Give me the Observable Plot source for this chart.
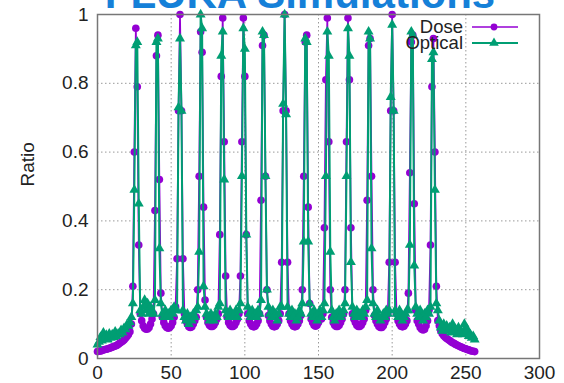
<!DOCTYPE html>
<html>
<head>
<meta charset="utf-8">
<script src="https://cdn.jsdelivr.net/npm/d3@7"></script>
<script src="https://cdn.jsdelivr.net/npm/@observablehq/plot@0.6"></script>
<style>
  body { margin: 0; background: #fff; }
  #wrap { position: relative; width: 564px; height: 383px; overflow: hidden; font-family: "Liberation Sans", Arial, sans-serif; }
  #title { position: absolute; left: 0; width: 600px; top: -27.5px; text-align: center; font-size: 42px; line-height: 42px; font-weight: bold; color: #1580d8; white-space: nowrap; }
  #legend { position: absolute; left: 0; top: 0; pointer-events: none; }
</style>
</head>
<body>
<div id="wrap"><div id="title">FLUKA Simulations</div></div>
<script>
// ---- data (sample index = x position, step 1) ----
const xStart = 0, xStep = 1;
const dose = [
  0.020,0.021,0.022,0.023,0.025,0.026,0.027,0.028,0.030,0.031,
  0.033,0.035,0.036,0.038,0.041,0.044,0.047,0.050,0.054,0.059,
  0.064,0.070,0.078,0.100,0.21,0.60,0.96,0.79,0.33,0.13,
  0.11,0.095,0.088,0.085,0.086,0.09,0.10,0.115,0.13,0.43,
  0.88,0.94,0.52,0.19,0.12,0.105,0.095,0.09,0.088,0.09,
  0.095,0.105,0.12,0.15,0.29,0.72,1.0,0.72,0.29,0.13,
  0.11,0.10,0.092,0.09,0.092,0.10,0.11,0.12,0.20,0.53,
  0.95,0.89,0.44,0.17,0.12,0.105,0.097,0.093,0.093,0.097,
  0.105,0.115,0.13,0.36,0.82,0.99,0.63,0.24,0.12,0.105,
  0.097,0.093,0.093,0.097,0.105,0.115,0.13,0.24,0.63,0.99,
  0.82,0.36,0.13,0.11,0.10,0.094,0.092,0.094,0.10,0.11,
  0.13,0.46,0.91,0.94,0.53,0.20,0.125,0.11,0.10,0.094,
  0.092,0.094,0.10,0.11,0.13,0.28,0.72,1.0,0.72,0.28,
  0.13,0.11,0.10,0.094,0.092,0.094,0.10,0.11,0.125,0.20,
  0.53,0.92,0.94,0.44,0.16,0.115,0.105,0.097,0.094,0.097,
  0.105,0.115,0.115,0.13,0.38,0.81,0.99,0.63,0.20,0.12,
  0.105,0.097,0.093,0.093,0.097,0.105,0.115,0.13,0.20,0.63,
  0.99,0.81,0.38,0.13,0.115,0.105,0.097,0.093,0.093,0.097,
  0.105,0.115,0.14,0.46,0.91,0.93,0.53,0.20,0.125,0.11,
  0.10,0.093,0.09,0.09,0.095,0.105,0.115,0.13,0.28,0.72,
  1.0,0.72,0.28,0.13,0.11,0.10,0.094,0.092,0.094,0.10,
  0.11,0.19,0.54,0.92,0.94,0.45,0.14,0.11,0.10,0.09,
  0.085,0.083,0.085,0.095,0.11,0.14,0.33,0.79,0.93,0.60,
  0.21,0.11,0.095,0.08,0.072,0.066,0.062,0.058,0.055,0.052,
  0.049,0.046,0.044,0.041,0.039,0.037,0.035,0.033,0.031,0.029,
  0.028,0.026,0.025,0.023,0.022,0.021,0.020
];
const optical = [
  0.040,0.048,0.062,0.052,0.075,0.058,0.068,0.055,0.072,0.060,
  0.070,0.062,0.078,0.065,0.072,0.070,0.082,0.075,0.088,0.085,
  0.098,0.095,0.105,0.12,0.16,0.49,0.91,0.92,0.45,0.14,
  0.13,0.15,0.17,0.14,0.16,0.13,0.15,0.14,0.13,0.17,
  0.92,0.93,0.32,0.16,0.13,0.12,0.14,0.12,0.13,0.12,
  0.14,0.13,0.15,0.14,0.14,0.73,0.93,0.72,0.14,0.12,
  0.11,0.13,0.10,0.12,0.11,0.13,0.12,0.14,0.15,0.31,
  1.0,0.96,0.21,0.15,0.13,0.12,0.11,0.13,0.12,0.11,
  0.13,0.12,0.15,0.16,0.88,0.95,0.52,0.14,0.13,0.12,
  0.14,0.13,0.12,0.13,0.14,0.12,0.14,0.16,0.53,0.96,
  0.90,0.36,0.15,0.13,0.12,0.14,0.12,0.13,0.12,0.14,
  0.13,0.17,0.95,0.94,0.53,0.20,0.15,0.13,0.12,0.14,
  0.12,0.13,0.11,0.13,0.15,0.15,0.74,1.0,0.71,0.15,
  0.13,0.12,0.14,0.12,0.13,0.11,0.12,0.14,0.13,0.16,
  0.34,0.93,0.92,0.34,0.16,0.13,0.12,0.14,0.12,0.11,
  0.13,0.14,0.12,0.14,0.16,0.53,0.95,0.88,0.31,0.14,
  0.12,0.11,0.13,0.12,0.14,0.12,0.13,0.14,0.16,0.53,
  0.96,0.88,0.28,0.15,0.13,0.12,0.14,0.12,0.13,0.12,
  0.14,0.13,0.15,0.17,0.95,0.93,0.32,0.16,0.13,0.12,
  0.14,0.12,0.11,0.12,0.13,0.12,0.14,0.13,0.14,0.76,
  0.97,0.72,0.14,0.13,0.12,0.14,0.13,0.11,0.12,0.13,
  0.14,0.14,0.33,0.95,0.94,0.27,0.15,0.13,0.12,0.14,
  0.12,0.11,0.13,0.12,0.14,0.13,0.15,0.87,0.89,0.49,
  0.16,0.14,0.11,0.09,0.08,0.10,0.085,0.095,0.08,0.09,
  0.075,0.10,0.08,0.085,0.07,0.09,0.075,0.08,0.07,0.10,
  0.075,0.085,0.065,0.07,0.06,0.065,0.055
];
const seriesNames = ["Dose", "Optical"];
const seriesColors = ["#9400d3", "#009e73"];
const xTicks = [0, 50, 100, 150, 200, 250, 300];
const yTicks = [0, 0.2, 0.4, 0.6, 0.8, 1];
const yLabel = "Ratio";

const rows = dose.map((d, i) => ({ x: xStart + i * xStep, dose: d, optical: optical[i] }))
  .filter(r => r.optical !== undefined);

const font = "Liberation Sans, Arial, sans-serif";
const chart = Plot.plot({
  width: 564, height: 383,
  marginLeft: 97, marginRight: 25, marginTop: 14, marginBottom: 25,
  style: { fontFamily: font, fontSize: "19px", color: "#222", background: "transparent", overflow: "visible" },
  x: { domain: [0, 300] },
  y: { domain: [0, 1] },
  marks: [
    Plot.gridX(xTicks, { stroke: "#999", strokeOpacity: 1, strokeDasharray: "1.5,2.5", strokeWidth: 1 }),
    Plot.gridY(yTicks, { stroke: "#999", strokeOpacity: 1, strokeDasharray: "1.5,2.5", strokeWidth: 1 }),
    Plot.axisX(xTicks, { tickSize: 0, tickPadding: 7, label: null, fontSize: 19 }),
    Plot.axisY(yTicks, { tickSize: 0, tickPadding: 9, label: null, fontSize: 19, tickFormat: d => String(d) }),
    Plot.text([yLabel], { frameAnchor: "left", dx: -70, rotate: -90, fontSize: 19, fill: "#222" }),
    Plot.line(rows, { x: "x", y: "dose", stroke: seriesColors[0], strokeWidth: 1.7 }),
    Plot.dot(rows, { x: "x", y: "dose", r: 3.8, fill: seriesColors[0], symbol: "circle" }),
    Plot.line(rows, { x: "x", y: "optical", stroke: seriesColors[1], strokeWidth: 2 }),
    Plot.dot(rows, { x: "x", y: "optical", r: 3.7, fill: seriesColors[1], symbol: "triangle" }),
    Plot.frame({ stroke: "#777", strokeWidth: 1.5 })
  ]
});
document.getElementById("wrap").appendChild(chart);

// legend overlay (gnuplot-style, inside top-right of the frame)
const leg = d3.select("#wrap").append("svg").attr("id", "legend").attr("width", 564).attr("height", 383);
const symbols = [d3.symbolCircle, d3.symbolTriangle];
const sizes = [36, 40];
seriesNames.forEach((name, i) => {
  const cy = 27 + i * 16;
  leg.append("text").attr("x", 463).attr("y", cy).attr("dy", "0.35em").attr("text-anchor", "end")
    .attr("font-family", font).attr("font-size", 18.5).attr("fill", "#222").text(name);
  leg.append("line").attr("x1", 472).attr("x2", 518).attr("y1", cy).attr("y2", cy)
    .attr("stroke", seriesColors[i]).attr("stroke-width", i ? 2 : 1.7);
  leg.append("path").attr("d", d3.symbol(symbols[i], sizes[i])()).attr("transform", `translate(494,${cy})`)
    .attr("fill", seriesColors[i]);
});
</script>
</body>
</html>
